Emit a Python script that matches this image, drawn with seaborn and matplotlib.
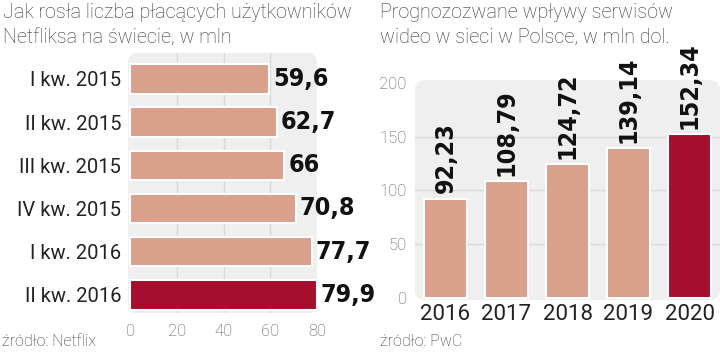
import seaborn as sns
import matplotlib.pyplot as plt
from matplotlib.patches import FancyBboxPatch

# left panel: Netflix paying users, mln
quarters = ["I kw. 2015", "II kw. 2015", "III kw. 2015", "IV kw. 2015", "I kw. 2016", "II kw. 2016"]
users = [59.6, 62.7, 66, 70.8, 77.7, 79.9]

# right panel: forecast revenue of online video services in Poland, mln USD
years = ["2016", "2017", "2018", "2019", "2020"]
revenue = [92.23, 108.79, 124.72, 139.14, 152.34]

pink = "#d9a08b"
red = "#a50e2d"
bg = "#efefef"
grid = "#d9d9d9"

sns.set_style("white")
plt.rcParams["font.family"] = ["Roboto", "DejaVu Sans"]

num_font = ["DejaVu Sans"]


def fmt(v):
    return f"{v:g}".replace(".", ",")


def rounded_bg(ax):
    ax.patch.set_visible(False)
    box = FancyBboxPatch((0, 0), 1, 1, boxstyle="round,pad=0,rounding_size=0.04",
                         mutation_aspect=1.0, transform=ax.transAxes,
                         facecolor=bg, edgecolor="none", zorder=-5, clip_on=False)
    ax.add_patch(box)


fig = plt.figure(figsize=(7.2, 3.53), dpi=100)

# ---- left
ax1 = fig.add_axes([128 / 720, 40 / 353, 189 / 720, 260 / 353])
rounded_bg(ax1)
sns.barplot(x=users, y=quarters, hue=quarters, palette=[pink] * 5 + [red], legend=False,
            orient="h", width=0.68, saturation=1, edgecolor="white", linewidth=1.5,
            ax=ax1, zorder=3)
ax1.set_xlim(-1, 80)
ax1.set_ylim(5.42, -0.6)
ax1.set_xticks([0, 20, 40, 60, 80])
for x in [20, 40, 60]:
    ax1.axvline(x, color=grid, lw=1, zorder=1)
ax1.tick_params(axis="y", length=0, pad=5, labelsize=14.5, labelcolor="#222")
ax1.tick_params(axis="x", length=0, pad=8, labelsize=12, labelcolor="#555")
for lab in ax1.get_xticklabels():
    lab.set_fontweight("light")
sns.despine(ax=ax1, left=True, bottom=True)
ax1.set_xlabel("")
ax1.set_ylabel("")
for i, v in enumerate(users):
    ax1.text(v + 1.8, i, fmt(v), va="center", ha="left", fontsize=18,
             fontweight="bold", fontstretch="condensed", family=num_font,
             color="#111", clip_on=False)

# ---- right
ax2 = fig.add_axes([415 / 720, 53 / 353, 305 / 720, 220 / 353])
rounded_bg(ax2)
sns.barplot(x=years, y=revenue, hue=years, palette=[pink] * 4 + [red], legend=False,
            width=0.72, saturation=1, edgecolor="white", linewidth=1.5, ax=ax2, zorder=3)
ax2.set_xlim(-0.5, 4.5)
ax2.set_ylim(-1.9, 202.8)
ax2.set_yticks([0, 50, 100, 150, 200])
for y in [50, 100, 150]:
    ax2.axhline(y, color=grid, lw=1, zorder=1)
ax2.tick_params(axis="y", length=0, pad=6, labelsize=12, labelcolor="#555")
ax2.tick_params(axis="x", length=0, pad=3, labelsize=16, labelcolor="#222")
for lab in ax2.get_yticklabels():
    lab.set_fontweight("light")
sns.despine(ax=ax2, left=True, bottom=True)
ax2.set_xlabel("")
ax2.set_ylabel("")
for i, v in enumerate(revenue):
    ax2.text(i, v + 5, fmt(v), rotation=90, ha="center", va="bottom", fontsize=18,
             fontweight="bold", fontstretch="condensed", family=num_font,
             color="#111", clip_on=False)

# ---- titles and sources
fig.text(3 / 720, 1 - 3 / 353, "Jak rosła liczba płacących użytkowników\nNetfliksa na świecie, w mln",
         ha="left", va="top", fontsize=14.2, fontweight="light", color="#333", linespacing=1.4)
fig.text(380 / 720, 1 - 3 / 353, "Prognozozwane wpływy serwisów\nwideo w sieci w Polsce, w mln dol.",
         ha="left", va="top", fontsize=14.2, fontweight="light", color="#333", linespacing=1.4)
fig.text(2 / 720, 1 - 342 / 353, "źródło: Netflix", ha="left", va="center",
         fontsize=11.5, fontweight="light", color="#333")
fig.text(380 / 720, 1 - 342 / 353, "źródło: PwC", ha="left", va="center",
         fontsize=11.5, fontweight="light", color="#333")

fig.savefig("out.png", dpi=100)
